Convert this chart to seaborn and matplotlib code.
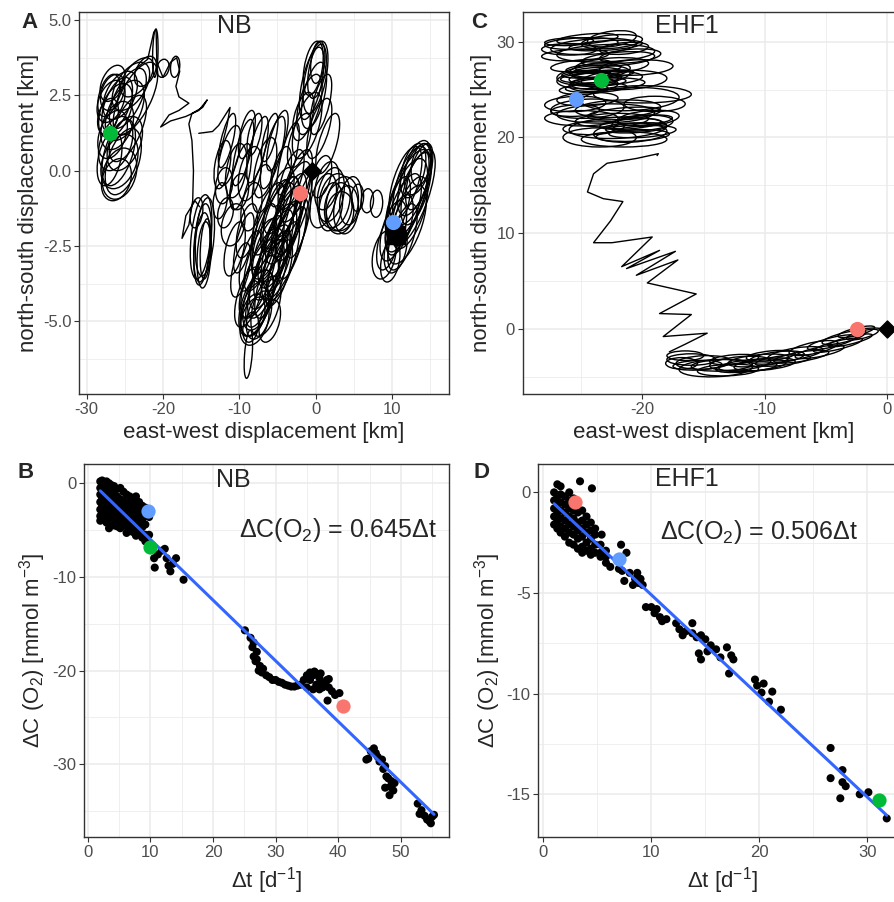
import numpy as np
import pandas as pd
import matplotlib
matplotlib.use("Agg")
import matplotlib.pyplot as plt
import seaborn as sns
from matplotlib.patches import Ellipse
from matplotlib.transforms import Affine2D

# ---------------- panel A (NB trajectory) ----------------
# loops: (centre x, centre y, width, height, lean)
nb_loops_west = [(-26.8, 2.3, 3.4, 1.4, 1.0), (-26.2, 2.0, 4.0, 1.8, 1.1), (-26.6, 2.6, 3.0, 1.2, 0.9),
                 (-25.6, 2.5, 4.0, 1.6, 1.3), (-25.0, 2.0, 4.4, 2.0, 1.3), (-24.2, 2.8, 4.2, 1.6, 1.6),
                 (-23.4, 3.1, 3.6, 1.3, 1.8), (-27.2, 1.8, 2.6, 1.2, 0.7), (-26.2, 0.9, 4.2, 1.8, 0.9),
                 (-25.7, 0.3, 4.6, 1.8, 0.9), (-25.7, -0.1, 4.4, 1.7, 0.7), (-25.8, 0.6, 3.8, 2.2, 1.0),
                 (-25.0, 0.9, 4.2, 1.8, 1.1), (-26.0, 1.5, 4.0, 1.6, 1.0), (-24.6, 1.4, 3.8, 2.2, 1.4),
                 (-26.6, 2.9, 3.0, 1.2, 1.1), (-27.1, 2.5, 2.6, 1.4, 0.9), (-26.0, 2.2, 3.4, 1.8, 1.2),
                 (-24.6, 2.4, 3.8, 2.0, 1.5), (-26.6, 1.2, 3.6, 1.6, 0.9), (-26.1, -0.3, 3.8, 1.4, 0.7),
                 (-25.2, 0.3, 4.2, 2.2, 1.0), (-23.6, 2.4, 4.4, 2.4, 1.6), (-27.0, 0.4, 3.0, 1.8, 0.7),
                 (-21.0, 3.9, 0.7, 1.6, 0.1), (-22.3, 3.3, 2.6, 1.0, 1.2), (-20.0, 3.4, 1.6, 0.6, 0.5),
                 (-18.4, 3.45, 1.2, 0.7, 0.3)]
nb_loops_small = [(-14.8, -2.4, 2.2, 2.6, 0.3), (-14.6, -2.8, 1.8, 2.2, 0.2), (-15.0, -2.2, 2.6, 2.8, 0.4),
                  (-14.4, -2.6, 1.4, 2.0, 0.2), (-15.6, -1.4, 1.6, 1.0, 0.5), (-14.9, -2.6, 2.0, 2.4, 0.3),
                  (-14.5, -2.2, 2.4, 2.6, 0.3)]
nb_loops_mid = [(-12.2, 0.2, 2.0, 1.6, 0.6), (-11.3, 0.5, 2.4, 2.0, 0.9), (-10.4, 0.0, 2.6, 1.8, 0.6),
                (-9.5, 0.6, 2.0, 2.2, 0.9), (-8.6, -0.1, 2.8, 1.8, 0.7), (-7.6, 0.7, 2.0, 2.2, 0.9),
                (-6.6, 0.1, 2.6, 2.0, 0.8), (-5.6, 0.6, 2.2, 2.4, 1.0), (-12.0, -0.5, 2.2, 1.2, 0.4),
                (-10.0, -0.7, 2.4, 1.2, 0.5), (-4.6, -0.2, 2.4, 2.0, 0.8), (-3.6, 0.4, 2.0, 2.4, 0.9),
                (-8.0, 1.2, 1.6, 1.4, 0.8), (-10.8, -1.8, 3.0, 1.4, 0.6), (-11.8, -1.4, 2.0, 1.0, 0.5),
                (-9.8, -3.3, 2.2, 1.8, 0.8), (-11.6, 1.0, 1.6, 1.8, 0.9), (-9.0, 1.2, 1.8, 1.6, 0.8),
                (-7.0, -0.6, 2.4, 1.6, 0.6), (-5.0, 1.0, 2.0, 2.0, 1.0), (-9.8, -0.2, 2.2, 2.2, 0.8),
                (-6.0, 1.1, 1.6, 1.6, 0.9), (-12.5, -1.0, 1.8, 1.2, 0.4), (-8.4, -1.2, 2.6, 1.6, 0.6),
                (-10.6, -2.6, 2.4, 1.8, 0.8), (-9.4, -2.4, 2.0, 2.0, 0.9)]
nb_loops_core = [(-2.5, -0.5, 3.0, 2.4, 1.2), (-3.0, -1.0, 3.4, 2.6, 1.3), (-3.5, -1.5, 3.2, 2.8, 1.2),
                 (-4.0, -1.8, 3.6, 2.6, 1.4), (-4.5, -2.2, 3.4, 3.0, 1.3), (-5.0, -2.5, 3.8, 2.8, 1.2),
                 (-5.5, -2.8, 3.4, 3.0, 1.3), (-6.0, -3.2, 3.6, 2.8, 1.4), (-6.5, -3.6, 3.4, 2.6, 1.3),
                 (-7.0, -4.0, 3.2, 2.4, 1.2), (-7.5, -4.3, 3.6, 2.0, 1.0), (-8.0, -4.6, 3.4, 1.8, 0.9),
                 (-8.2, -4.8, 3.0, 1.4, 0.7), (-7.8, -4.4, 3.8, 2.2, 1.1), (-3.8, -1.2, 2.4, 2.0, 1.0),
                 (-5.2, -1.5, 3.0, 2.4, 1.1), (-6.8, -2.2, 2.6, 2.2, 1.0), (-4.2, -3.0, 2.8, 2.6, 1.2),
                 (-2.2, -1.8, 2.2, 2.2, 1.0), (-8.5, -3.0, 2.4, 2.0, 0.9), (-9.0, -2.0, 2.4, 1.8, 0.8),
                 (-8.5, -5.2, 2.0, 1.0, 0.5), (-8.8, -6.1, 1.0, 1.6, 0.3),
                 (-3.2, -0.3, 2.6, 2.0, 1.1), (-4.8, -1.0, 3.0, 2.2, 1.2), (-6.2, -1.6, 3.2, 2.4, 1.2),
                 (-7.2, -2.8, 3.0, 2.4, 1.3), (-5.8, -3.6, 3.0, 2.6, 1.2), (-4.8, -3.4, 2.6, 2.2, 1.1),
                 (-7.6, -3.6, 3.4, 2.6, 1.3), (-8.8, -4.2, 3.0, 2.0, 1.0), (-6.5, -4.5, 3.4, 2.0, 1.0),
                 (-3.0, -2.4, 2.4, 2.4, 1.1), (-5.5, -2.0, 4.0, 3.2, 1.3), (-4.0, -2.6, 3.8, 3.4, 1.4),
                 (-7.0, -3.4, 4.0, 3.0, 1.3), (-8.0, -5.0, 3.6, 1.6, 0.8), (-2.8, -1.4, 3.0, 2.8, 1.3),
                 (-6.0, -5.0, 2.6, 1.4, 0.8), (-5.0, -3.0, 3.0, 2.0, 1.1), (-6.2, -2.6, 3.2, 2.2, 1.2),
                 (-3.6, -2.0, 2.6, 2.0, 1.1), (-7.4, -4.8, 3.0, 1.6, 0.9), (-4.5, -1.4, 3.6, 2.4, 1.3)]
nb_loops_north = [(-0.3, 3.4, 2.4, 1.8, 0.6), (0.0, 3.1, 2.8, 2.4, 0.7), (-0.5, 2.9, 2.6, 2.4, 0.8),
                  (0.3, 3.6, 1.8, 1.4, 0.4), (-0.8, 2.2, 2.8, 2.0, 0.9), (-1.1, 1.5, 3.2, 2.2, 1.0),
                  (0.5, 1.4, 2.6, 2.0, 1.0), (1.6, 0.9, 2.4, 2.0, 1.0), (-2.1, 1.0, 2.6, 1.8, 1.0),
                  (0.2, 3.3, 2.2, 1.8, 0.6), (-0.2, 2.5, 2.8, 2.2, 0.8), (0.7, 2.2, 2.2, 2.0, 0.9),
                  (-1.6, 1.8, 2.4, 1.6, 0.9)]
nb_loops_east = [(2.5, -1.0, 4.0, 1.8, 0.5), (3.0, -1.2, 3.6, 1.6, 0.4), (4.0, -1.3, 3.2, 1.6, 0.3),
                 (2.0, -0.8, 3.4, 1.8, 0.6), (3.5, -1.1, 4.2, 1.8, 0.4), (1.5, -0.5, 3.0, 1.6, 0.7),
                 (3.2, -1.4, 3.6, 1.4, 0.3), (2.0, -1.2, 3.0, 1.6, 0.5), (4.6, -1.0, 2.8, 1.6, 0.4),
                 (1.0, -1.0, 3.2, 1.8, 0.8), (0.8, -0.2, 2.4, 1.4, 0.8),
                 (5.5, -0.9, 1.6, 0.9, 0.2), (6.8, -1.0, 1.6, 0.8, 0.2), (8.0, -1.1, 1.6, 0.9, 0.2),
                 (12.5, -0.5, 4.0, 2.6, 1.0), (13.0, -0.3, 3.6, 2.4, 1.1), (12.8, 0.0, 3.0, 1.8, 0.8),
                 (12.0, -1.0, 4.2, 2.8, 1.2), (13.2, -0.6, 3.2, 2.4, 1.0), (11.5, -1.4, 3.6, 2.6, 1.2),
                 (11.0, -1.8, 3.0, 2.0, 1.0), (12.2, -0.8, 4.4, 3.0, 1.3), (9.5, -2.4, 2.6, 1.8, 0.8),
                 (9.0, -2.8, 3.0, 1.6, 0.6), (10.2, -2.0, 3.0, 2.0, 0.9), (13.8, 0.2, 2.4, 1.4, 0.6),
                 (12.8, -0.9, 4.0, 3.2, 1.3), (11.8, -0.4, 3.4, 2.4, 1.1), (13.4, 0.1, 3.2, 1.8, 0.9),
                 (12.4, -1.4, 3.6, 2.4, 1.2), (11.4, -2.2, 3.0, 2.2, 1.1), (10.8, -1.2, 2.6, 2.0, 1.0),
                 (13.6, -0.2, 2.8, 2.2, 1.0), (12.0, -1.8, 4.0, 2.6, 1.2), (9.8, -3.0, 2.4, 1.4, 0.6),
                 (10.5, -2.6, 2.8, 1.6, 0.7)]
nb_thread_west = [(-23.5, 3.4), (-22.0, 3.7), (-21.2, 4.6), (-20.9, 4.7), (-20.8, 3.6), (-20.0, 3.1),
                  (-19.0, 3.6), (-18.2, 3.75), (-17.8, 3.3), (-18.3, 2.8), (-17.9, 2.45), (-16.6, 2.24),
                  (-17.9, 2.0), (-19.2, 1.85), (-20.3, 1.45), (-19.0, 1.65), (-17.0, 1.8), (-15.3, 2.0),
                  (-14.2, 2.35), (-14.8, 2.1), (-16.2, 1.9), (-16.6, 1.55), (-16.2, 1.0), (-16.0, 0.0),
                  (-16.1, -1.0), (-16.6, -1.8), (-17.5, -2.25), (-17.0, -1.5), (-15.8, -1.0), (-15.2, -1.2)]
nb_thread_mid = [(-15.3, 1.24), (-13.5, 1.3), (-12.7, 1.5), (-11.2, 2.1), (-11.6, 1.5), (-12.6, 0.5)]
nb_thread_start = [(-0.5, 0.0), (-1.2, -0.3), (-2.0, -0.7), (-2.8, -1.2)]
nb_marks = {"start": (-0.5, 0.0), "end": (10.6, -2.15),
            "red": (-2.0, -0.73), "blue": (10.1, -1.69), "green": (-27.0, 1.26)}

# ---------------- panel C (EHF1 trajectory) ----------------
ehf_loops_top = [(-25.0, 29.8, 6.0, 1.2, 0.05), (-24.0, 29.5, 7.0, 1.6, 0.08), (-26.0, 29.2, 4.5, 1.2, 0.0),
                 (-22.5, 30.0, 5.0, 1.4, 0.1), (-23.0, 28.8, 8.0, 1.8, 0.05), (-21.5, 29.3, 4.0, 1.2, 0.1),
                 (-22.5, 30.3, 4.0, 1.6, 0.15), (-24.0, 26.5, 6.0, 2.0, 0.1), (-23.5, 27.0, 5.0, 1.6, 0.1),
                 (-24.5, 26.0, 5.0, 1.8, 0.05), (-23.0, 26.2, 6.0, 1.4, 0.05), (-24.0, 25.5, 4.0, 1.4, 0.05),
                 (-23.8, 26.8, 4.0, 1.0, 0.05), (-22.5, 27.5, 6.0, 1.6, 0.08), (-21.5, 26.0, 7.0, 2.0, 0.05),
                 (-20.0, 24.5, 8.0, 1.8, 0.0), (-25.5, 23.5, 5.0, 1.6, 0.05), (-24.5, 23.0, 6.0, 2.0, 0.05),
                 (-23.0, 22.5, 8.0, 2.0, 0.03), (-21.0, 24.0, 8.0, 2.4, 0.05), (-25.0, 22.0, 6.0, 1.6, 0.0),
                 (-22.0, 21.0, 8.0, 2.2, 0.05), (-21.0, 20.5, 6.0, 2.0, 0.05), (-20.0, 21.5, 5.0, 1.6, 0.08),
                 (-23.5, 20.0, 6.0, 2.0, 0.0), (-21.5, 19.8, 7.0, 1.6, 0.0), (-19.5, 22.0, 5.0, 1.6, 0.1),
                 (-24.2, 26.2, 5.0, 1.0, 0.05), (-23.6, 25.8, 4.5, 0.9, 0.05), (-24.6, 26.6, 4.0, 0.8, 0.05),
                 (-23.2, 26.6, 5.0, 0.8, 0.08), (-24.0, 27.2, 4.5, 0.9, 0.08), (-23.8, 25.2, 5.0, 1.0, 0.05),
                 (-22.8, 25.6, 6.0, 1.2, 0.05), (-24.8, 25.0, 4.0, 1.0, 0.05), (-25.0, 27.5, 5.0, 1.2, 0.1),
                 (-22.0, 28.2, 6.0, 1.4, 0.1), (-26.0, 30.0, 4.0, 0.8, 0.05), (-24.5, 30.3, 5.0, 1.0, 0.1),
                 (-23.0, 29.6, 6.0, 1.0, 0.08), (-25.5, 28.6, 5.5, 1.2, 0.05), (-21.0, 28.5, 5.0, 1.4, 0.1),
                 (-20.5, 27.3, 6.0, 1.6, 0.05), (-20.5, 21.0, 5.0, 1.0, 0.08), (-20.0, 20.6, 5.5, 1.2, 0.08),
                 (-21.0, 21.4, 5.0, 1.0, 0.1), (-19.8, 21.8, 4.5, 1.0, 0.1), (-20.8, 20.2, 6.0, 1.2, 0.05),
                 (-22.5, 21.8, 6.0, 1.4, 0.05), (-24.0, 21.0, 5.0, 1.4, 0.05), (-25.5, 22.8, 4.0, 1.2, 0.05),
                 (-24.5, 24.0, 5.0, 1.4, 0.05), (-22.0, 23.0, 7.0, 1.8, 0.05), (-19.0, 23.5, 5.0, 1.6, 0.0),
                 (-21.5, 22.5, 6.0, 1.2, 0.1)]
ehf_loops_bottom = [(-16.0, -3.2, 4.0, 1.2, 0.0), (-15.0, -3.5, 4.5, 1.4, 0.05), (-13.5, -3.8, 5.0, 1.2, 0.05),
                    (-12.0, -3.6, 5.0, 1.4, 0.1), (-10.5, -3.3, 5.0, 1.2, 0.12), (-9.0, -3.0, 4.5, 1.2, 0.15),
                    (-7.5, -2.6, 4.5, 1.2, 0.2), (-6.0, -2.0, 4.0, 1.2, 0.25), (-4.5, -1.4, 4.0, 1.0, 0.3),
                    (-3.5, -0.9, 3.6, 1.0, 0.3), (-2.5, -0.3, 3.0, 0.8, 0.3), (-14.0, -4.1, 6.0, 1.8, 0.05),
                    (-11.0, -3.8, 5.5, 1.2, 0.1), (-16.5, -2.8, 3.0, 1.0, 0.0),
                    (-15.5, -3.8, 4.0, 1.0, 0.05), (-13.0, -4.3, 5.0, 1.2, 0.05), (-11.5, -4.0, 5.0, 1.0, 0.1),
                    (-10.0, -3.7, 5.0, 1.2, 0.12), (-8.5, -3.3, 4.5, 1.0, 0.15), (-7.0, -2.9, 4.5, 1.0, 0.2),
                    (-5.5, -2.4, 4.0, 1.0, 0.25), (-4.0, -1.7, 4.0, 0.9, 0.3), (-3.0, -1.2, 3.6, 0.8, 0.3),
                    (-2.0, -0.6, 2.6, 0.8, 0.3), (-12.5, -3.2, 4.0, 1.0, 0.1), (-9.5, -2.8, 4.0, 1.0, 0.12),
                    (-16.8, -3.6, 2.6, 1.2, 0.0)]
ehf_zigzag = [(-18.8, 18.1), (-18.7, 18.3), (-20.5, 17.8), (-22.9, 17.3), (-24.0, 16.2), (-24.5, 14.3),
              (-23.2, 13.6), (-21.6, 13.3), (-22.6, 11.3), (-24.0, 9.0), (-22.5, 9.0), (-19.2, 9.6),
              (-21.7, 6.5), (-18.6, 8.2), (-21.3, 6.3), (-17.3, 8.1), (-20.5, 5.6), (-17.1, 7.2),
              (-19.6, 4.8), (-15.6, 3.65), (-18.6, 1.6), (-16.0, 1.5), (-18.3, -0.8), (-14.7, -0.45),
              (-16.5, -1.6), (-17.8, -2.4)]
ehf_thread_start = [(0.0, 0.0), (-1.0, 0.1), (-2.5, 0.0)]
ehf_marks = {"start": (0.0, 0.0), "red": (-2.47, 0.0), "blue": (-25.45, 23.98), "green": (-23.4, 26.0)}

# ---------------- panel B (NB oxygen change) ----------------
nb_early = [(2.0, 0.2), (2.0, -0.5), (2.0, -1.2), (2.0, -2.0), (2.0, -2.8), (2.0, -3.5), (2.0, -4.0),
            (2.3, 0.3), (2.3, -0.3), (2.3, -1.0), (2.3, -1.6), (2.3, -2.4), (2.3, -3.1),
            (2.6, 0.1), (2.6, -0.6), (2.6, -1.3), (2.6, -2.0), (2.6, -2.7), (2.6, -3.6),
            (3.0, 0.2), (3.0, -0.4), (3.0, -1.1), (3.0, -1.8), (3.0, -2.5), (3.0, -3.3), (3.0, -4.2),
            (3.4, 0.0), (3.4, -0.8), (3.4, -1.5), (3.4, -2.2), (3.4, -3.0), (3.4, -3.8), (3.4, -4.8),
            (3.8, -0.2), (3.8, -1.0), (3.8, -1.8), (3.8, -2.6), (3.8, -3.4), (3.8, -4.3),
            (4.2, -0.3), (4.2, -1.2), (4.2, -2.0), (4.2, -2.8), (4.2, -3.6), (4.2, -4.5),
            (4.7, -0.6), (4.7, -1.4), (4.7, -2.2), (4.7, -3.1), (4.7, -3.9), (4.7, -4.6),
            (5.2, -0.5), (5.2, -1.7), (5.2, -2.5), (5.2, -3.3), (5.2, -4.1), (5.2, -4.8),
            (5.7, -0.9), (5.7, -1.9), (5.7, -2.7), (5.7, -3.5), (5.7, -4.4),
            (6.2, -1.2), (6.2, -2.1), (6.2, -3.0), (6.2, -3.8), (6.2, -4.6), (6.2, -5.3),
            (6.7, -1.4), (6.7, -2.4), (6.7, -3.2), (6.7, -4.0), (6.7, -4.9),
            (7.2, -1.7), (7.2, -2.6), (7.2, -3.5), (7.2, -4.3), (7.2, -5.2),
            (7.7, -1.4), (7.7, -2.2), (7.7, -3.0), (7.7, -3.8), (7.7, -4.8), (7.7, -5.6),
            (8.2, -2.0), (8.2, -2.7), (8.2, -3.6), (8.2, -4.4), (8.2, -5.4),
            (8.7, -2.4), (8.7, -3.0), (8.7, -3.9), (8.7, -4.7), (8.7, -5.8),
            (9.2, -2.6), (9.2, -3.5), (9.2, -4.4), (9.2, -5.5), (9.2, -6.2),
            (9.8, -3.6), (9.8, -5.5), (9.8, -6.5),
            (10.3, -7.0), (10.6, -8.0), (10.7, -9.0), (11.2, -7.6), (11.8, -7.2), (12.3, -7.0),
            (12.6, -8.0), (12.9, -8.8), (13.2, -9.4), (13.6, -8.6), (14.1, -8.0), (15.3, -10.3)]
nb_mid = [(25.1, -15.7), (26.0, -16.5), (26.3, -17.5), (26.5, -17.0), (26.5, -18.5), (26.8, -19.0),
          (27.0, -18.0), (27.0, -18.8), (27.3, -20.0), (27.5, -19.5), (27.8, -20.2), (28.0, -19.8),
          (28.5, -20.5), (29.0, -20.7), (29.5, -21.0), (30.0, -21.0), (30.5, -21.2), (31.0, -21.3),
          (31.5, -21.5), (32.0, -21.6), (32.5, -21.7), (33.0, -21.7), (33.5, -21.6), (34.0, -21.5),
          (34.5, -21.0), (35.0, -20.5), (35.0, -21.8), (35.5, -20.2), (35.5, -21.0), (36.0, -20.5),
          (36.0, -22.0), (36.2, -20.1), (36.5, -20.3), (36.5, -21.5), (37.0, -20.8), (37.0, -22.0),
          (37.2, -20.3), (37.5, -21.3), (37.5, -21.8), (38.0, -21.5), (38.2, -21.0), (38.5, -20.9),
          (38.5, -21.8), (39.0, -22.2), (39.5, -22.6), (40.2, -22.4), (38.3, -23.2)]
nb_late = [(44.5, -29.5), (44.8, -29.4), (45.2, -28.6), (45.7, -28.3), (46.0, -28.8), (46.3, -29.2),
           (46.6, -29.7), (47.0, -29.5), (47.2, -30.5), (47.5, -30.2), (47.7, -31.3), (48.0, -31.5),
           (48.3, -32.4), (48.5, -31.8), (48.8, -32.8), (49.0, -32.0), (48.2, -33.3), (47.5, -32.5),
           (52.7, -34.2), (53.0, -35.3), (53.3, -34.9), (53.8, -35.5), (54.2, -35.9), (54.6, -36.1),
           (54.8, -36.3), (55.0, -35.6), (55.3, -35.4)]
nb_coloured = {"red": (40.7, -23.8), "blue": (9.7, -3.0), "green": (9.95, -6.76)}

# ---------------- panel D (EHF1 oxygen change) ----------------
ehf_early = [(1.0, 0.0), (1.0, -0.4), (1.0, -0.8), (1.0, -1.2), (1.0, -1.6),
             (1.3, 0.4), (1.3, -0.2), (1.3, -0.6), (1.3, -1.0), (1.3, -1.4), (1.3, -1.8),
             (1.6, 0.3), (1.6, -0.1), (1.6, -0.5), (1.6, -0.9), (1.6, -1.3), (1.6, -1.7), (1.6, -2.0),
             (2.0, -0.2), (2.0, -0.6), (2.0, -1.0), (2.0, -1.4), (2.0, -1.8), (2.0, -2.2),
             (2.4, 0.0), (2.4, -0.4), (2.4, -0.8), (2.4, -1.2), (2.4, -1.6), (2.4, -2.0), (2.4, -2.5),
             (2.8, -0.3), (2.8, -0.9), (2.8, -1.3), (2.8, -1.7), (2.8, -2.1), (2.8, -2.6),
             (3.2, -0.5), (3.2, -1.0), (3.2, -1.5), (3.2, -1.9), (3.2, -2.3), (3.2, -2.8),
             (3.4, 0.55), (3.6, -0.9), (3.6, -1.4), (3.6, -1.8), (3.6, -2.2), (3.6, -2.7), (3.6, -3.0),
             (4.0, -1.2), (4.0, -1.6), (4.0, -2.0), (4.0, -2.5), (4.0, -2.9),
             (4.5, 0.2), (4.4, -1.5), (4.4, -1.9), (4.4, -2.3), (4.4, -2.8), (4.4, -3.1),
             (4.8, -1.8), (4.8, -2.1), (4.8, -2.6), (4.8, -3.0), (5.4, -2.1), (5.3, -2.6), (5.3, -3.0),
             (5.3, -3.2), (5.8, -2.9), (5.8, -3.2), (5.8, -3.5), (6.2, -3.7),
             (7.2, -2.6), (7.7, -3.0), (7.0, -3.8), (7.3, -3.9), (7.5, -4.4), (8.0, -4.0), (8.3, -4.6),
             (8.5, -4.3), (8.7, -4.0), (8.8, -4.5), (9.0, -4.3), (9.2, -4.6)]
ehf_late = [(9.5, -5.7), (10.0, -5.7), (10.3, -6.0), (10.5, -5.8), (10.8, -6.2), (11.0, -6.4), (11.4, -6.3),
            (12.3, -6.5), (12.6, -6.8), (12.9, -7.1), (13.2, -6.9), (13.8, -6.5), (13.8, -7.0),
            (14.2, -7.2), (14.6, -7.1), (15.0, -7.3), (14.4, -8.0), (14.6, -8.3), (15.2, -7.9), (15.5, -7.6),
            (16.0, -7.8), (16.4, -8.2), (17.0, -7.7), (17.4, -8.1), (17.6, -8.3), (17.2, -9.0),
            (19.6, -9.3), (19.8, -9.6), (20.2, -9.95), (20.4, -9.5), (21.2, -9.9), (20.9, -10.4), (22.0, -10.8),
            (26.6, -12.7), (26.6, -14.2), (27.5, -15.2), (27.7, -13.8), (27.7, -14.4), (28.0, -14.6),
            (29.3, -15.0), (30.1, -14.9), (31.8, -16.2)]
ehf_coloured = {"red": (2.92, -0.5), "blue": (6.98, -3.3), "green": (31.1, -15.3)}

dot_colours = {"red": "#F8766D", "green": "#00BA38", "blue": "#619CFF"}

sns.set_theme(style="white")
plt.rcParams["font.family"] = ["Liberation Sans", "DejaVu Sans"]
plt.rcParams["axes.unicode_minus"] = False
plt.rcParams["mathtext.fontset"] = "custom"
plt.rcParams["mathtext.rm"] = "Liberation Sans"
plt.rcParams["mathtext.it"] = "Liberation Sans:italic"
plt.rcParams["mathtext.bf"] = "Liberation Sans:bold"

fig = plt.figure(figsize=(8.95, 9.02), dpi=100)
axA = fig.add_axes([0.0883, 0.5632, 0.4134, 0.4235])
axC = fig.add_axes([0.5840, 0.5632, 0.4260, 0.4235])
axB = fig.add_axes([0.0942, 0.0717, 0.4075, 0.4139])
axD = fig.add_axes([0.6015, 0.0717, 0.4110, 0.4139])


def style(ax, xlim, ylim, xt, xtl, yt, ytl, xm, ym):
    ax.set_xlim(*xlim)
    ax.set_ylim(*ylim)
    ax.set_xticks(xt, xtl)
    ax.set_yticks(yt, ytl)
    ax.set_xticks(xm, minor=True)
    ax.set_yticks(ym, minor=True)
    ax.grid(which="major", color="#EBEBEB", lw=1.1)
    ax.grid(which="minor", color="#EBEBEB", lw=0.55)
    ax.set_axisbelow(True)
    ax.tick_params(which="major", length=3.5, width=0.8, color="#333333", labelsize=12,
                   labelcolor="#4D4D4D", pad=2, bottom=True, left=True)
    ax.tick_params(which="minor", length=0)
    for s in ax.spines.values():
        s.set_color("#333333")
        s.set_linewidth(1.0)


def draw_loops(ax, loops, tilt="x"):
    for cx, cy, w, h, k in loops:
        e = Ellipse((0, 0), w, h, fill=False, ec="black", lw=1.0)
        sk = Affine2D().skew(np.arctan(k), 0) if tilt == "x" else Affine2D().skew(0, np.arctan(k))
        e.set_transform(sk.translate(cx, cy) + ax.transData)
        ax.add_patch(e)


def draw_thread(ax, pts):
    df = pd.DataFrame(pts, columns=["x", "y"])
    sns.lineplot(data=df, x="x", y="y", sort=False, estimator=None, color="black", lw=1.0, ax=ax)


# A
for grp in [nb_loops_west, nb_loops_small, nb_loops_mid, nb_loops_core, nb_loops_north, nb_loops_east]:
    draw_loops(axA, grp, "x")
for th in [nb_thread_west, nb_thread_mid, nb_thread_start]:
    draw_thread(axA, th)
axA.scatter(*nb_marks["start"], marker="D", s=80, color="black", zorder=5)
axA.scatter(*nb_marks["end"], marker="s", s=170, color="black", zorder=5)
for c in ["red", "blue", "green"]:
    axA.scatter(*nb_marks[c], s=120, color=dot_colours[c], zorder=6, linewidths=0)
style(axA, (-31.0, 17.5), (-7.42, 5.27), [-30, -20, -10, 0, 10], ["-30", "-20", "-10", "0", "10"],
      [5, 2.5, 0, -2.5, -5], ["5.0", "2.5", "0.0", "-2.5", "-5.0"],
      [-25, -15, -5, 5, 15], [3.75, 1.25, -1.25, -3.75, -6.25])
axA.text(-10.7, 4.82, "NB", fontsize=18, ha="center", va="center")

# C
draw_loops(axC, ehf_loops_top, "y")
draw_loops(axC, ehf_loops_bottom, "y")
draw_thread(axC, ehf_zigzag)
draw_thread(axC, ehf_thread_start)
axC.scatter(*ehf_marks["start"], marker="D", s=75, color="black", zorder=5)
for c in ["red", "blue", "green"]:
    axC.scatter(*ehf_marks[c], s=120, color=dot_colours[c], zorder=6, linewidths=0)
style(axC, (-29.8, 1.4), (-6.8, 33.1), [-20, -10, 0], ["-20", "-10", "0"],
      [0, 10, 20, 30], ["0", "10", "20", "30"], [-25, -15, -5], [-5, 5, 15, 25])
axC.text(-16.4, 31.6, "EHF1", fontsize=18, ha="center", va="center")

for ax in (axA, axC):
    ax.set_xlabel("east-west displacement [km]", fontsize=16, labelpad=4)
    ax.set_ylabel("north-south displacement [km]", fontsize=16, labelpad=3)

# B
nb_all = nb_early + nb_mid + nb_late
nb_dt = np.array([p[0] for p in nb_all])
nb_dc = np.array([p[1] for p in nb_all])
sns.scatterplot(x=nb_dt, y=nb_dc, color="black", s=34, edgecolor="none", ax=axB, legend=False)
sns.regplot(x=nb_dt, y=nb_dc, scatter=False, ci=None, color="#3366FF", line_kws={"lw": 2.2}, ax=axB)
for c in ["red", "blue", "green"]:
    axB.scatter(*nb_coloured[c], s=105, color=dot_colours[c], zorder=6, linewidths=0)
style(axB, (-0.55, 57.7), (-37.8, 2.06), [0, 10, 20, 30, 40, 50], ["0", "10", "20", "30", "40", "50"],
      [0, -10, -20, -30], ["0", "-10", "-20", "-30"], [5, 15, 25, 35, 45, 55], [-5, -15, -25, -35])
axB.text(23.3, 0.4, "NB", fontsize=18, ha="center", va="center")
axB.text(40.0, -5.0, "ΔC(O$_2$) = 0.645Δt", fontsize=18, ha="center", va="center")

# D
ehf_all = ehf_early + ehf_late
ehf_dt = np.array([p[0] for p in ehf_all])
ehf_dc = np.array([p[1] for p in ehf_all])
sns.scatterplot(x=ehf_dt, y=ehf_dc, color="black", s=34, edgecolor="none", ax=axD, legend=False)
sns.regplot(x=ehf_dt, y=ehf_dc, scatter=False, ci=None, color="#3366FF", line_kws={"lw": 2.2}, ax=axD)
for c in ["red", "blue", "green"]:
    axD.scatter(*ehf_coloured[c], s=105, color=dot_colours[c], zorder=6, linewidths=0)
style(axD, (-0.46, 33.6), (-17.14, 1.41), [0, 10, 20, 30], ["0", "10", "20", "30"],
      [0, -5, -10, -15], ["0", "-5", "-10", "-15"], [5, 15, 25], [-2.5, -7.5, -12.5])
axD.text(13.3, 0.68, "EHF1", fontsize=18, ha="center", va="center")
axD.text(20.0, -1.96, "ΔC(O$_2$) = 0.506Δt", fontsize=18, ha="center", va="center")

for ax in (axB, axD):
    ax.set_xlabel("Δt [d$^{-1}$]", fontsize=16, labelpad=4)
    ax.set_ylabel("ΔC (O$_2$) [mmol m$^{-3}$]", fontsize=16, labelpad=3)

# panel letters
for lbl, x, y in [("A", 30, 22), ("B", 26, 472), ("C", 479, 22), ("D", 482, 472)]:
    fig.text(x / 895, 1 - y / 902, lbl, fontsize=16, fontweight="bold", ha="center", va="center")

fig.savefig("out.png", dpi=100)
